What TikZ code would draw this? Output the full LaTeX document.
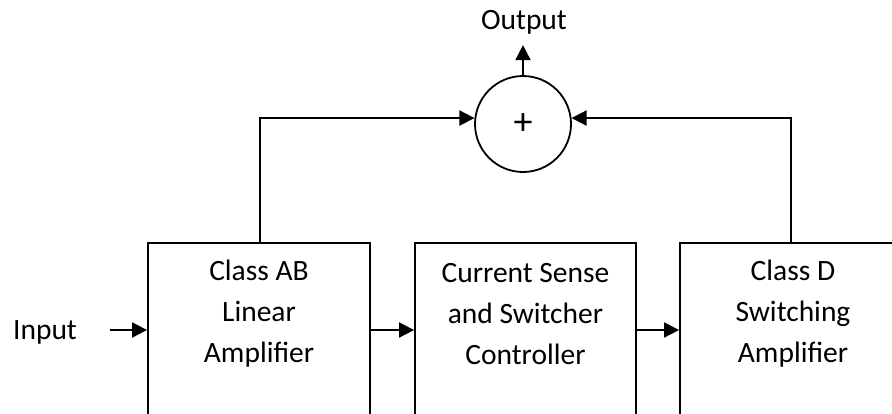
\documentclass[tikz,border=0pt]{standalone}
\usepackage{fontspec}
\setmainfont{Carlito}
\usetikzlibrary{arrows.meta}
\begin{document}
\begin{tikzpicture}[x=1pt,y=-1pt,
  line width=1.8pt,
  box/.style={draw,rectangle,minimum height=174pt,inner sep=0pt},
  txt/.style={font=\fontsize{29.5}{41}\selectfont,align=center,inner sep=0pt},
  arr/.style={-{Triangle[length=15pt,width=15pt]}},
  sum/.style={draw,circle,minimum size=96pt,inner sep=0pt,font=\fontsize{38}{40}\selectfont}]
\useasboundingbox (0,0) rectangle (892,413);
\clip (0,0) rectangle (892,413);
\node[box,minimum width=222pt] (ab) at (259,330) {};
\node[box,minimum width=221pt] (cs) at (525.5,330) {};
\node[box,minimum width=226pt] (cd) at (793,330) {};
\node[txt] (tab) at (259,314) {Class AB\\Linear\\Amplifier};
\node[txt] (tcs) at (525.5,314) {Current Sense\\and Switcher\\Controller};
\node[txt] (tcd) at (793,314) {Class D\\Switching\\Amplifier};
\node[sum] (s) at (523,124) {+};
\node[txt] (out) at (524,22) {Output};
\node[txt] (in) at (45,332) {Input};
\coordinate (inl) at (110,330);
\draw[arr] (inl) -- (ab.west);
\draw[arr] (ab.east) -- (cs.west);
\draw[arr] (cs.east) -- (cd.west);
\draw[arr] (ab.north -| 260,0) |- (s.173);
\draw[arr] (cd.north -| 791,0) |- (s.7);
\draw[arr] (s.north) -- ++(0,-30);
\end{tikzpicture}
\end{document}
